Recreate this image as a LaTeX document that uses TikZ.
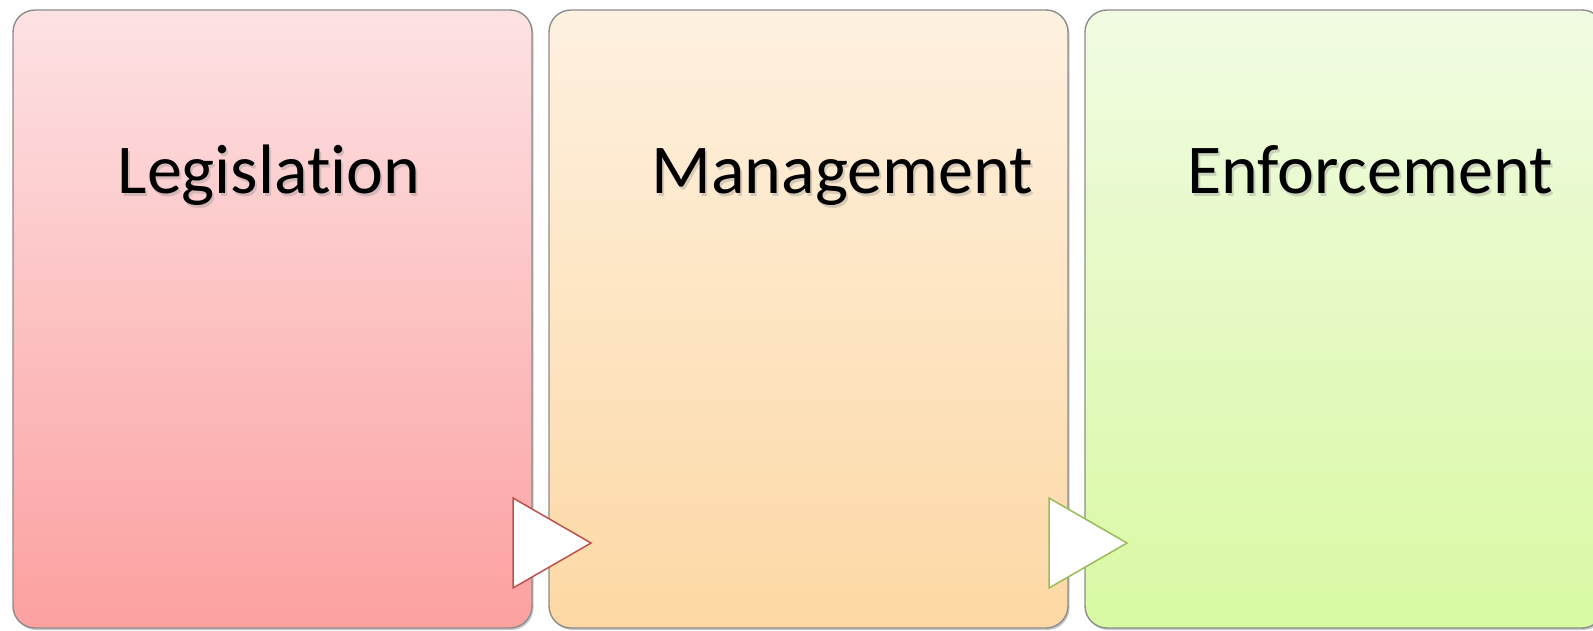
\documentclass[tikz,border=0pt]{standalone}
\usepackage{fontspec}
\setmainfont[Ligatures=NoCommon]{Carlito}
\usetikzlibrary{shadows}
\definecolor{bordergray}{RGB}{140,140,140}
\definecolor{rtop}{RGB}{253,226,228}
\definecolor{rbot}{RGB}{252,160,160}
\definecolor{otop}{RGB}{254,241,224}
\definecolor{obot}{RGB}{253,216,164}
\definecolor{gtop}{RGB}{241,251,226}
\definecolor{gbot}{RGB}{217,249,163}
\definecolor{tri1}{RGB}{192,80,77}
\definecolor{tri2}{RGB}{155,187,89}
\tikzset{
  panel/.style={rectangle, rounded corners=22pt, draw=bordergray, line width=1.4pt,
    minimum width=519pt, minimum height=618pt, inner sep=0pt,
    drop shadow={shadow xshift=1.5pt, shadow yshift=-2pt, opacity=0.35, fill=black!60}},
  label/.style={font=\fontsize{70}{82}\selectfont, text=black, anchor=base, inner sep=0pt},
  lshadow/.style={font=\fontsize{70}{82}\selectfont, text=black!45, opacity=0.35, anchor=base, inner sep=0pt},
  arrowtri/.style={fill=white, line width=1.5pt, line join=miter}
}
\begin{document}
\begin{tikzpicture}[x=1pt,y=-1pt]
\useasboundingbox (0,0) rectangle (1593,630);
\clip (0,0) rectangle (1593,630);
\fill[white] (0,0) rectangle (1593,630);
\node[panel, top color=rtop, bottom color=rbot] (p1) at (272.5,319) {};
\node[panel, top color=otop, bottom color=obot] (p2) at (808.5,319) {};
\node[panel, top color=gtop, bottom color=gbot] (p3) at (1344.5,319) {};
% text shadows
\node[lshadow] (s1) at (271,196) {Legislation};
\node[lshadow] (s2) at (844,196) {Management};
\node[lshadow] (s3) at (1372,196) {Enforcement};
\node[label] (t1) at (269,193) {Legislation};
\node[label] (t2) at (842,193) {Management};
\node[label] (t3) at (1370,193) {Enforcement};
% arrows
\draw[arrowtri, draw=tri1] (513,498) coordinate (a1) -- (591,543) coordinate (a1tip) -- (513,588) -- cycle;
\draw[arrowtri, draw=tri2] (1049,498) coordinate (a2) -- (1127,543) coordinate (a2tip) -- (1049,588) -- cycle;
\end{tikzpicture}
\end{document}
